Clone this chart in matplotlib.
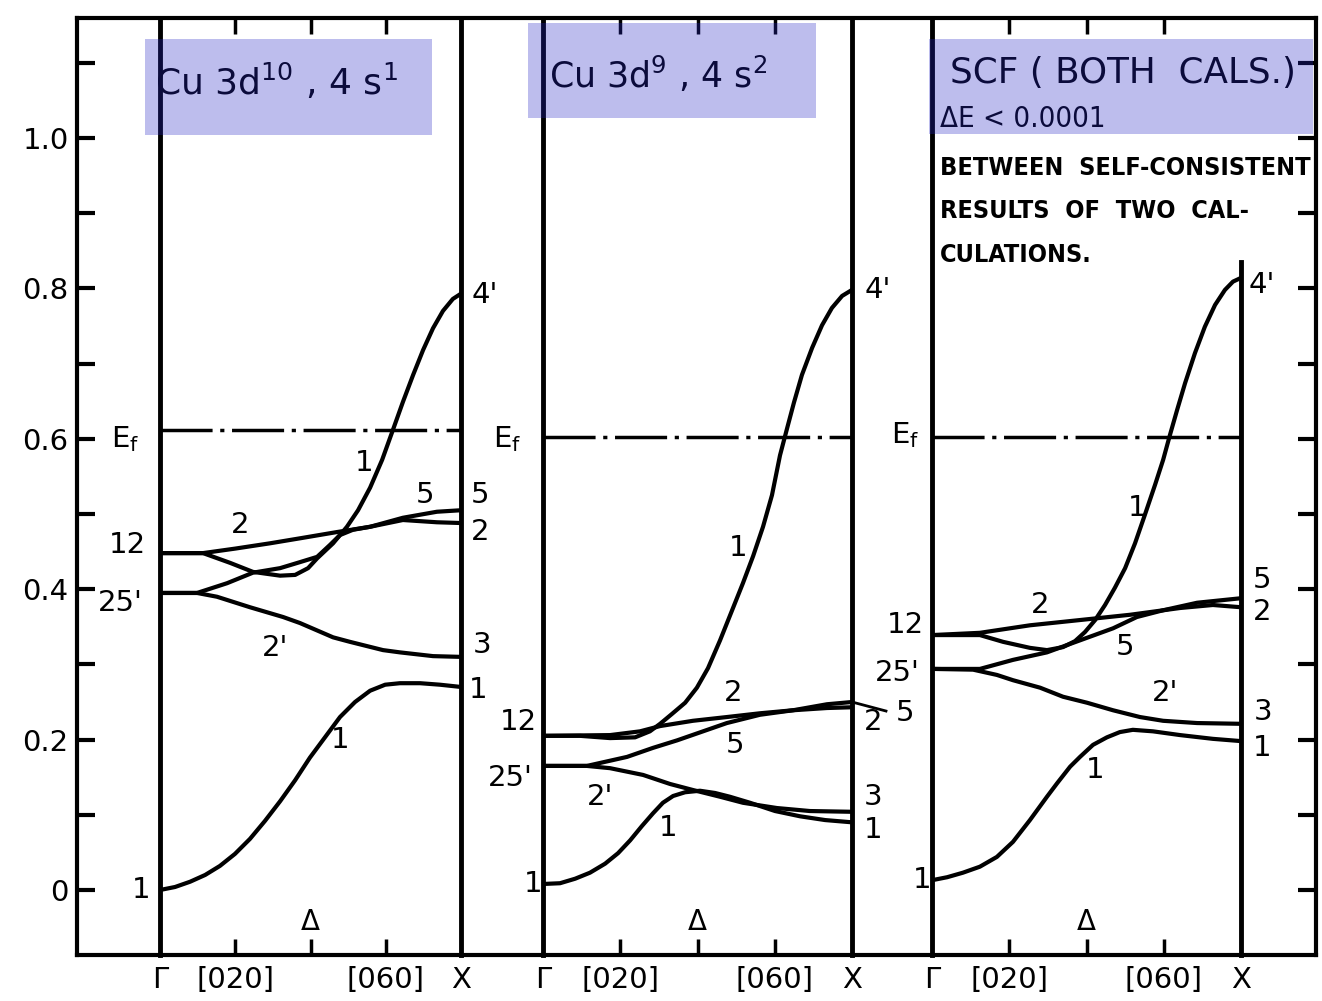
import matplotlib.pyplot as plt
from matplotlib import font_manager
from matplotlib.patches import Rectangle

# ---- energy scale (Ry) and k-axis labels -------------------------------
E_TICKS = [0.0, 0.1, 0.2, 0.3, 0.4, 0.5, 0.6, 0.7, 0.8, 0.9, 1.0, 1.1]
E_TICK_LABELS = ["0", "", "0.2", "", "0.4", "", "0.6", "", "0.8", "", "1.0", ""]
K_TICKS = [0.25, 0.5, 0.75]
K_TICK_LABELS = ["[020]", "", "[060]"]
K_ENDS = [0.0, 1.0]
K_END_LABELS = ["Γ", "X"]

TITLES = ["Cu 3d$^{10}$ , 4 s$^{1}$", "Cu 3d$^{9}$ , 4 s$^{2}$"]
SCF_TITLE = "SCF ( BOTH  CALS.)"
SCF_DELTA = "ΔE < 0.0001"
SCF_NOTE = ["BETWEEN  SELF-CONSISTENT", "RESULTS  OF  TWO  CAL-", "CULATIONS."]

E_FERMI = [0.612, 0.602, 0.602]

# ---- panel 1 : Cu 3d10 4s1 ----------------------------------------------
P1_D1_LOW_K = [0.0, 0.050, 0.100, 0.150, 0.199, 0.249, 0.299, 0.349, 0.399, 0.449, 0.498, 0.548,
               0.598, 0.648, 0.698, 0.748, 0.797, 0.864, 0.930, 1.0]
P1_D1_LOW_E = [0.0, 0.004, 0.011, 0.020, 0.032, 0.048, 0.068, 0.092, 0.118, 0.146, 0.176, 0.203,
               0.230, 0.250, 0.265, 0.273, 0.275, 0.275, 0.273, 0.270]
P1_D1_UP_K = [0.0, 0.143, 0.233, 0.309, 0.399, 0.449, 0.492, 0.522, 0.575, 0.621, 0.658, 0.698,
              0.738, 0.774, 0.807, 0.841, 0.874, 0.907, 0.940, 0.973, 1.0]
P1_D1_UP_E = [0.448, 0.448, 0.435, 0.423, 0.418, 0.419, 0.428, 0.441, 0.461, 0.483, 0.505, 0.535,
              0.572, 0.612, 0.649, 0.685, 0.718, 0.747, 0.770, 0.786, 0.793]
P1_D2_K = [0.0, 0.143, 0.25, 0.365, 0.47, 0.588, 0.698, 0.807, 0.920, 1.0]
P1_D2_E = [0.448, 0.448, 0.454, 0.461, 0.468, 0.476, 0.483, 0.492, 0.489, 0.488]
P1_D5_K = [0.0, 0.123, 0.223, 0.309, 0.399, 0.465, 0.522, 0.565, 0.598, 0.641, 0.698, 0.807, 0.920, 1.0]
P1_D5_E = [0.395, 0.395, 0.408, 0.422, 0.428, 0.436, 0.443, 0.459, 0.472, 0.479, 0.483, 0.495, 0.503, 0.505]
P1_D2P_K = [0.0, 0.123, 0.189, 0.299, 0.409, 0.465, 0.575, 0.631, 0.741, 0.797, 0.907, 1.0]
P1_D2P_E = [0.395, 0.395, 0.390, 0.376, 0.363, 0.355, 0.336, 0.330, 0.319, 0.316, 0.311, 0.310]

# ---- panel 2 : Cu 3d9 4s2 -----------------------------------------------
P2_D1_LOW_K = [0.0, 0.055, 0.104, 0.152, 0.201, 0.243, 0.282, 0.320, 0.356, 0.388, 0.421, 0.460,
               0.508, 0.557, 0.605, 0.670, 0.751, 0.832, 0.913, 1.0]
P2_D1_LOW_E = [0.008, 0.009, 0.015, 0.023, 0.035, 0.049, 0.066, 0.085, 0.102, 0.116, 0.125, 0.130,
               0.132, 0.129, 0.124, 0.116, 0.105, 0.098, 0.093, 0.090]
P2_D1_UP_K = [0.0, 0.120, 0.217, 0.298, 0.346, 0.379, 0.417, 0.460, 0.498, 0.534, 0.573, 0.612,
              0.647, 0.680, 0.712, 0.741, 0.767, 0.790, 0.812, 0.838, 0.871, 0.903, 0.935, 0.968, 1.0]
P2_D1_UP_E = [0.205, 0.205, 0.202, 0.203, 0.211, 0.221, 0.234, 0.249, 0.269, 0.295, 0.332, 0.372,
              0.408, 0.444, 0.483, 0.525, 0.578, 0.614, 0.648, 0.685, 0.721, 0.751, 0.774, 0.790, 0.798]
P2_D2_K = [0.0, 0.217, 0.314, 0.379, 0.485, 0.595, 0.702, 0.809, 0.919, 1.0]
P2_D2_E = [0.205, 0.206, 0.211, 0.218, 0.225, 0.230, 0.235, 0.239, 0.242, 0.243]
P2_D5_K = [0.0, 0.142, 0.272, 0.356, 0.434, 0.518, 0.595, 0.702, 0.809, 0.919, 1.0]
P2_D5_E = [0.165, 0.165, 0.177, 0.189, 0.199, 0.211, 0.222, 0.233, 0.239, 0.247, 0.250]
P2_D2P_K = [0.0, 0.142, 0.217, 0.324, 0.411, 0.485, 0.573, 0.647, 0.757, 0.864, 1.0]
P2_D2P_E = [0.165, 0.165, 0.162, 0.153, 0.141, 0.133, 0.124, 0.116, 0.109, 0.105, 0.104]

# ---- panel 3 : SCF -------------------------------------------------------
P3_D1_LOW_K = [0.0, 0.049, 0.100, 0.155, 0.210, 0.262, 0.317, 0.372, 0.405, 0.447, 0.479, 0.521,
               0.566, 0.608, 0.650, 0.715, 0.803, 0.909, 1.0]
P3_D1_LOW_E = [0.013, 0.017, 0.023, 0.031, 0.044, 0.064, 0.093, 0.124, 0.142, 0.164, 0.177, 0.193,
               0.203, 0.210, 0.213, 0.211, 0.206, 0.201, 0.198]
P3_D1_UP_K = [0.0, 0.155, 0.230, 0.317, 0.372, 0.424, 0.463, 0.495, 0.528, 0.560, 0.592, 0.625,
              0.657, 0.689, 0.722, 0.748, 0.770, 0.793, 0.819, 0.851, 0.883, 0.916, 0.948, 0.974, 1.0]
P3_D1_UP_E = [0.339, 0.339, 0.330, 0.322, 0.319, 0.323, 0.331, 0.343, 0.359, 0.379, 0.402, 0.428,
              0.461, 0.499, 0.539, 0.572, 0.605, 0.638, 0.674, 0.714, 0.749, 0.778, 0.798, 0.809, 0.814]
P3_D2_K = [0.0, 0.155, 0.317, 0.479, 0.641, 0.803, 0.909, 1.0]
P3_D2_E = [0.339, 0.342, 0.352, 0.359, 0.366, 0.375, 0.379, 0.376]
P3_D5_K = [0.0, 0.155, 0.262, 0.372, 0.479, 0.586, 0.663, 0.748, 0.858, 1.0]
P3_D5_E = [0.294, 0.294, 0.306, 0.316, 0.332, 0.348, 0.363, 0.372, 0.382, 0.388]
P3_D2P_K = [0.0, 0.133, 0.210, 0.262, 0.350, 0.424, 0.502, 0.586, 0.673, 0.748, 0.858, 1.0]
P3_D2P_E = [0.294, 0.293, 0.286, 0.279, 0.269, 0.257, 0.249, 0.239, 0.230, 0.225, 0.222, 0.221]
P3_RIGHT_LINE_TOP = 0.835

BANDS = [
    [(P1_D1_LOW_K, P1_D1_LOW_E), (P1_D1_UP_K, P1_D1_UP_E), (P1_D2_K, P1_D2_E),
     (P1_D5_K, P1_D5_E), (P1_D2P_K, P1_D2P_E)],
    [(P2_D1_LOW_K, P2_D1_LOW_E), (P2_D1_UP_K, P2_D1_UP_E), (P2_D2_K, P2_D2_E),
     (P2_D5_K, P2_D5_E), (P2_D2P_K, P2_D2P_E)],
    [(P3_D1_LOW_K, P3_D1_LOW_E), (P3_D1_UP_K, P3_D1_UP_E), (P3_D2_K, P3_D2_E),
     (P3_D5_K, P3_D5_E), (P3_D2P_K, P3_D2P_E)],
]

EF = r"E$_\mathregular{f}$"
P1_LABELS = [(EF, -0.116, 0.600), ("12", -0.110, 0.459), ("25'", -0.133, 0.382), ("1", -0.063, 0.0),
             ("2", 0.266, 0.485), ("2'", 0.382, 0.322), ("1", 0.678, 0.568), ("5", 0.880, 0.525),
             ("1", 0.598, 0.199), ("4'", 1.08, 0.791), ("5", 1.063, 0.525), ("2", 1.063, 0.476),
             ("3", 1.07, 0.326), ("1", 1.056, 0.266)]
P2_LABELS = [(EF, -0.117, 0.600), ("12", -0.081, 0.223), ("25'", -0.107, 0.149), ("1", -0.032, 0.008),
             ("1", 0.631, 0.455), ("2", 0.615, 0.262), ("5", 0.621, 0.193), ("2'", 0.184, 0.124),
             ("1", 0.405, 0.082), ("4'", 1.084, 0.798), ("2", 1.068, 0.223), ("5", 1.17, 0.235),
             ("3", 1.068, 0.124), ("1", 1.068, 0.080)]
P3_LABELS = [(EF, -0.087, 0.605), ("12", -0.087, 0.352), ("25'", -0.113, 0.289), ("1", -0.032, 0.013),
             ("1", 0.663, 0.508), ("2", 0.350, 0.379), ("5", 0.625, 0.323), ("2'", 0.754, 0.262),
             ("1", 0.528, 0.160), ("4'", 1.068, 0.805), ("5", 1.068, 0.412), ("2", 1.068, 0.370),
             ("3", 1.071, 0.237), ("1", 1.068, 0.189)]
LABELS = [P1_LABELS, P2_LABELS, P3_LABELS]

# ---- layout in pixels of the scanned figure -----------------------------
W, H = 1322, 1001
TOP_PX, BOT_PX = 18, 955
E0_PX, PX_PER_E = 890, 752          # y pixel of E = 0 and pixels per Ry
E_LO = (E0_PX - BOT_PX) / PX_PER_E
E_HI = (E0_PX - TOP_PX) / PX_PER_E
TICK_E = 16 / PX_PER_E              # length of the k ticks
FRAME_PX = (77, 1316)
PANEL_PX = [(160, 461), (543, 852), (932, 1241)]
BOX_PX = [(145, 39, 432, 135), (528, 23, 816, 118), (929, 39, 1313, 134)]

fig = plt.figure(figsize=(W / 100, H / 100), dpi=100)
fig.patch.set_facecolor("white")


def rect(x0, x1):
    return [x0 / W, 1 - BOT_PX / H, (x1 - x0) / W, (BOT_PX - TOP_PX) / H]


def fpx(x, y):
    return x / W, 1 - y / H


# outer frame with the energy scale
frame = fig.add_axes(rect(*FRAME_PX))
frame.set_facecolor("none")
frame.set_xlim(0, 1)
frame.set_ylim(E_LO, E_HI)
for s in frame.spines.values():
    s.set_linewidth(3)
frame.set_xticks([])
frame.set_yticks(E_TICKS)
frame.set_yticklabels(E_TICK_LABELS)
frame.tick_params(axis="y", direction="in", length=13, width=3, left=True, right=True,
                  pad=6, labelsize=21)

for i, (x0, x1) in enumerate(PANEL_PX):
    ax = fig.add_axes(rect(x0, x1))
    ax.set_facecolor("none")
    ax.set_xlim(0, 1)
    ax.set_ylim(E_LO, E_HI)
    ax.spines["top"].set_visible(False)
    ax.spines["bottom"].set_visible(False)
    ax.spines["left"].set_linewidth(3.5)
    ax.spines["right"].set_linewidth(3.5)
    if i == 2:
        ax.spines["right"].set_visible(False)
        ax.axvline(1.0, ymin=0, ymax=(P3_RIGHT_LINE_TOP - E_LO) / (E_HI - E_LO),
                   color="k", lw=3.5, clip_on=False)
    ax.set_yticks([])
    ax.set_xticks(K_TICKS)
    ax.set_xticklabels(K_TICK_LABELS, fontsize=21)
    ax.tick_params(axis="x", length=0, pad=8)
    # k ticks on the top and bottom edges, pointing inward
    ax.vlines(K_TICKS, E_LO, E_LO + TICK_E, color="k", lw=2.5)
    ax.vlines(K_TICKS, E_HI - TICK_E, E_HI, color="k", lw=2.5)
    for k, lab in zip(K_ENDS, K_END_LABELS):
        ax.annotate(lab, xy=(k, 0), xycoords=("data", "axes fraction"), xytext=(0, -8),
                    textcoords="offset points", ha="center", va="top", fontsize=21)

    for k, e in BANDS[i]:
        ax.plot(k, e, color="k", lw=3, solid_joinstyle="round", solid_capstyle="round")
    ax.axhline(E_FERMI[i], color="k", lw=2.5, ls=(0, (15, 2.2, 1.2, 2.2)))
    ax.text(0.5, -0.042, "Δ", ha="center", va="center", fontsize=20)
    for txt, k, e in LABELS[i]:
        ax.text(k, e, txt, ha="center", va="center", fontsize=21)
    if i == 1:
        # short leader from X to the outer "5" label
        ax.plot([1.0, 1.11], [P2_D5_E[-1], 0.238], color="k", lw=2, clip_on=False)

names = {f.name for f in font_manager.fontManager.ttflist}
if "Liberation Sans Narrow" in names:
    narrow = dict(family="Liberation Sans Narrow")
else:
    narrow = dict(family="DejaVu Sans", stretch="condensed")

renderer = fig.canvas.get_renderer()


def fit(txt, width_px):
    w = txt.get_window_extent(renderer=renderer).width
    txt.set_fontsize(txt.get_fontsize() * width_px / w)


# panel titles
fig.text(*fpx(155, 95), TITLES[0], fontsize=26, va="baseline")
fig.text(*fpx(549, 88), TITLES[1], fontsize=25, va="baseline")
t = fig.text(*fpx(950, 83), SCF_TITLE, fontsize=21, va="baseline")
fit(t, 345)

t = fig.text(*fpx(940, 127), SCF_DELTA, fontsize=20, va="baseline", **narrow)
fit(t, 165)
note = [fig.text(*fpx(940, y), line, fontsize=20, va="baseline", fontweight="bold", **narrow)
        for line, y in zip(SCF_NOTE, [175, 218, 262])]
fit(note[0], 368)
for t in note:
    t.set_fontsize(note[0].get_fontsize())

# translucent blue highlight boxes over the titles
for x0, y0, x1, y1 in BOX_PX:
    fig.add_artist(Rectangle(fpx(x0, y1), (x1 - x0) / W, (y1 - y0) / H, transform=fig.transFigure,
                             facecolor="#2626c6", alpha=0.3, edgecolor="none", zorder=10))

fig.savefig("out.png", dpi=100)
